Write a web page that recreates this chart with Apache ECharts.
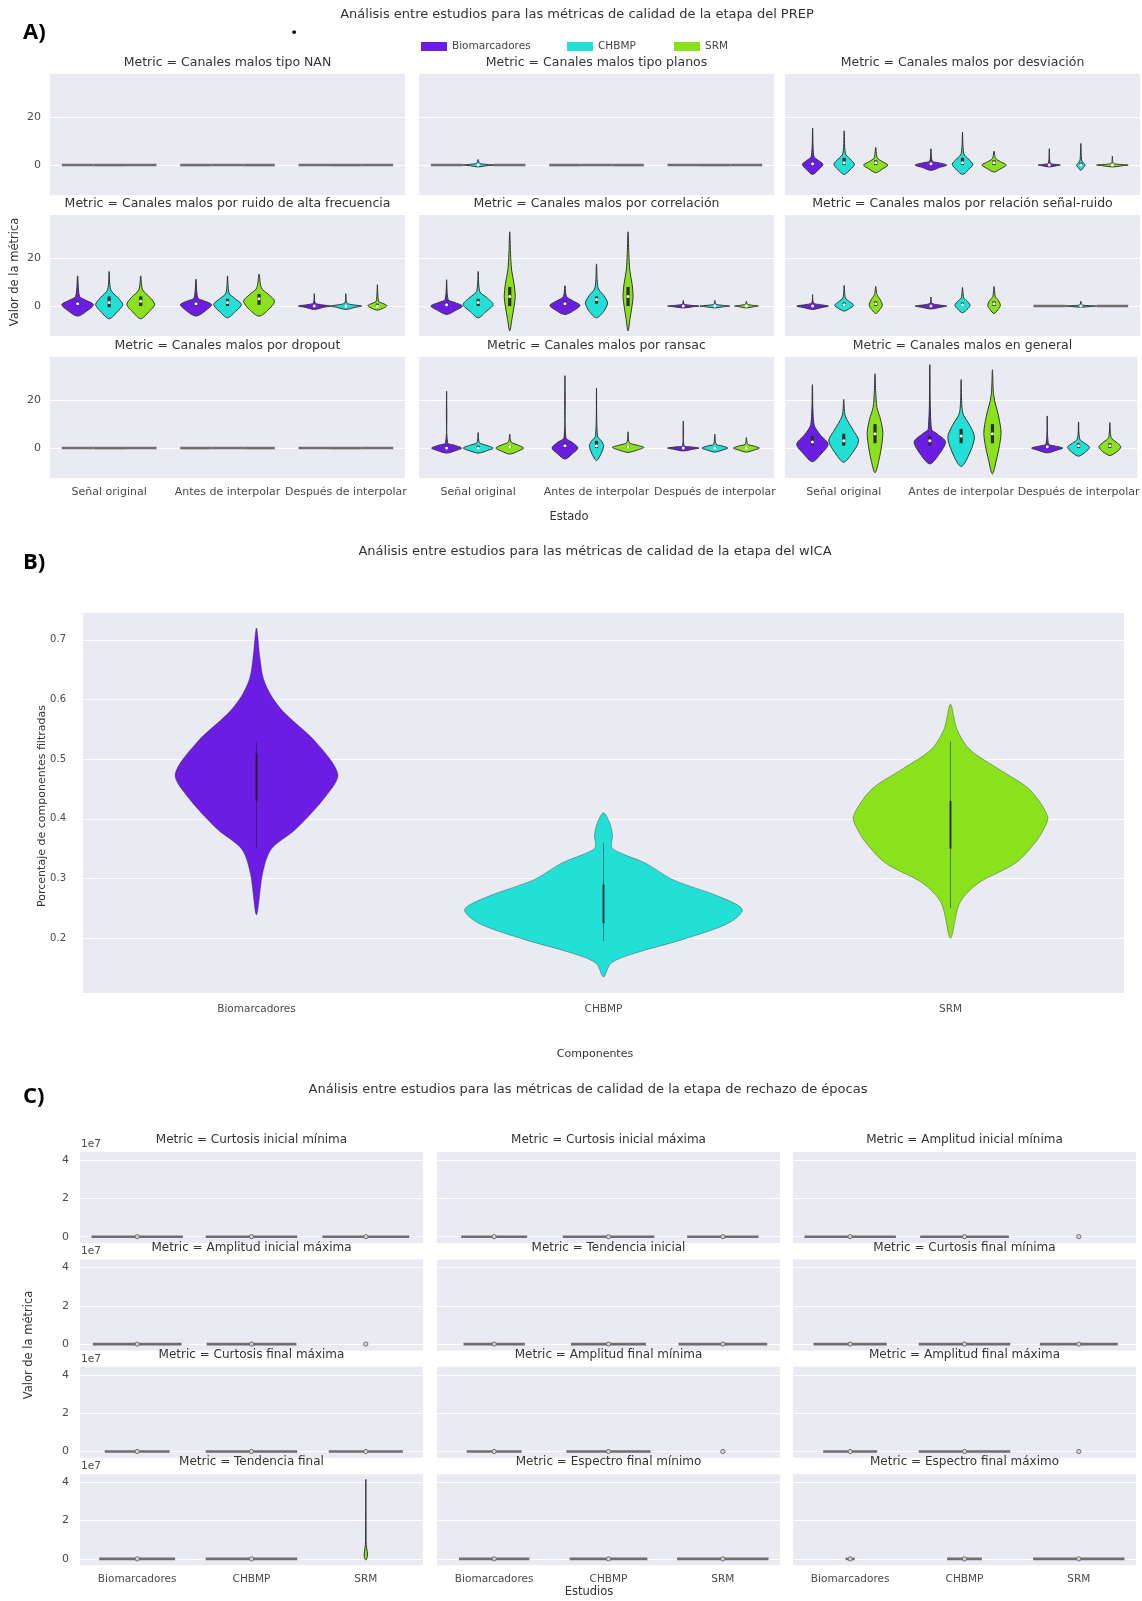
<!DOCTYPE html>
<html><head><meta charset="utf-8">
<script src="https://cdn.jsdelivr.net/npm/echarts@6/dist/echarts.min.js"></script>
<style>html,body{margin:0;padding:0;background:#fff}#c{width:1142px;height:1601px}</style>
</head><body><div id="c"></div>
<script>
// ---------------- data ----------------
const studies = ['Biomarcadores', 'CHBMP', 'SRM'];
const studyColors = ['#6b1de3', '#22e0d6', '#8ae21d'];

// A) PREP
const prepStates = ['Señal original', 'Antes de interpolar', 'Después de interpolar'];
const prepMetrics = ['Canales malos tipo NAN', 'Canales malos tipo planos', 'Canales malos por desviación',
  'Canales malos por ruido de alta frecuencia', 'Canales malos por correlación', 'Canales malos por relación señal-ruido',
  'Canales malos por dropout', 'Canales malos por ransac', 'Canales malos en general'];
const prepTicks = [0, 20];
// 9 violins per panel (state-major, study-minor). null = every value is 0.
// each: [[value, relWidth, ...] outline from bottom tip to top tip, [q1, median, q3]]
const prepNAN = [null, null, null, null, null, null, null, null, null];
const prepPlanos = [null, [[-0.8,0, -0.3,0.5, 0,1.0, 0.3,0.5, 0.8,0.08, 2.3,0], [0,0,0]], null,
  null, null, null, null, null, null];
const prepDesviacion = [
  [[-3.9,0, -1.8,0.4, 0.3,0.65, 2,0.35, 3.7,0.08, 15.4,0], [0,0.5,1.5]],
  [[-3.9,0, -1.8,0.4, 0.3,0.65, 2.5,0.38, 4.8,0.08, 14.3,0], [0,1,3]],
  [[-3.2,0, -1.5,0.45, 0,0.77, 1.5,0.4, 3,0.1, 7.4,0], [0,1,2]],
  [[-2.2,0, -1,0.55, 0,1.0, 1,0.45, 1.7,0.08, 6.8,0], [0,0.5,1]],
  [[-3.9,0, -1.8,0.4, 0.3,0.65, 2.5,0.38, 4.8,0.08, 13.7,0], [0,1,3]],
  [[-2.9,0, -1.4,0.45, 0,0.77, 1.4,0.4, 2.8,0.1, 5.8,0], [0,1,2]],
  [[-0.8,0, -0.3,0.45, 0,0.7, 0.3,0.35, 0.8,0.06, 6.8,0], [0,0,0]],
  [[-2.2,0, -1,0.17, 0,0.27, 1,0.15, 2.1,0.05, 9,0], [0,0,1]],
  [[-0.8,0, -0.3,0.6, 0,1.0, 0.3,0.45, 0.8,0.06, 3.7,0], [0,0,0]]
];
const prepRuido = [
  [[-4.2,0, -2,0.6, 0.6,1.0, 2.5,0.5, 4.1,0.12, 12.6,0], [0,1,2]],
  [[-5.3,0, -2.5,0.5, 0.6,0.86, 3.5,0.55, 6.8,0.1, 14.4,0], [-0.5,1.5,4]],
  [[-5.3,0, -2.5,0.5, 0.6,0.88, 3.5,0.6, 6.8,0.12, 12.6,0], [0,2,4]],
  [[-4.2,0, -2,0.6, 0.6,0.98, 2.2,0.5, 3.4,0.12, 11.2,0], [0,1,2]],
  [[-4.9,0, -2.3,0.5, 0.6,0.88, 3,0.5, 5.4,0.1, 12.6,0], [0,1.5,3]],
  [[-4.2,0, -1.5,0.6, 2,0.98, 4.8,0.6, 7.5,0.15, 13.3,0], [0.5,3,5]],
  [[-1.4,0, -0.5,0.6, 0,1.0, 0.6,0.4, 1.3,0.06, 5.2,0], [0,0,0]],
  [[-1.4,0, -0.5,0.6, 0,1.0, 0.6,0.4, 1.3,0.06, 5.2,0], [0,0,0.5]],
  [[-1.7,0, -0.8,0.4, 0.2,0.6, 1.1,0.35, 2,0.08, 8.9,0], [0,0,1]]
];
const prepCorrelacion = [
  [[-3.5,0, -1.7,0.6, 0,1.0, 1.5,0.5, 2.7,0.1, 11,0], [0,0.5,1.5]],
  [[-4.9,0, -2.3,0.5, 0.6,0.95, 3.5,0.55, 6.1,0.1, 14.4,0], [0,1.5,3]],
  [[-10.4,0, -5,0.15, 0,0.28, 4,0.35, 9,0.28, 15,0.12, 22,0.05, 31,0], [0,4,8]],
  [[-3.5,0, -1.7,0.6, 0.3,0.95, 2.2,0.5, 4,0.1, 8.5,0], [0,1,2]],
  [[-4.9,0, -2.3,0.45, 1.3,0.7, 4.5,0.45, 7.5,0.1, 17.6,0], [1,2.7,4]],
  [[-10.4,0, -5,0.13, 0,0.25, 4,0.32, 9,0.26, 15,0.11, 22,0.05, 31,0], [0,4,8]],
  [[-0.8,0, -0.3,0.6, 0,1.0, 0.3,0.5, 0.8,0.06, 2.3,0], [0,0,0]],
  [[-0.8,0, -0.3,0.55, 0,0.95, 0.3,0.5, 0.8,0.06, 2.3,0], [0,0,0]],
  [[-0.8,0, -0.3,0.45, 0,0.75, 0.3,0.4, 0.8,0.06, 2,0], [0,0,0]]
];
const prepRelacion = [
  [[-1.4,0, -0.6,0.6, 0,1.0, 0.6,0.45, 1.3,0.06, 4.8,0], [0,0,0]],
  [[-2.1,0, -1,0.35, 0.3,0.6, 1.8,0.35, 3.4,0.08, 8.6,0], [0,0.5,1.5]],
  [[-3.1,0, -1.5,0.25, 0.3,0.42, 2.5,0.3, 4.8,0.08, 8.2,0], [0,1,2]],
  [[-1.2,0, -0.5,0.6, 0,1.0, 0.5,0.45, 1.2,0.06, 3.8,0], [0,0,0]],
  [[-2.8,0, -1.3,0.3, 0.3,0.48, 2,0.3, 3.4,0.08, 7.8,0], [0,0.5,1.5]],
  [[-3.1,0, -1.5,0.25, 0.3,0.4, 2.3,0.28, 4,0.08, 8.2,0], [0,1,2]],
  null,
  [[-0.5,0, -0.2,0.6, 0,1.0, 0.2,0.5, 0.5,0.06, 2,0], [0,0,0]],
  null
];
const prepDropout = [null, null, null, null, null, null, null, null, null];
const prepRansac = [
  [[-2.1,0, -1,0.6, 0,0.95, 1.2,0.5, 2.3,0.06, 23.7,0], [0,0,1]],
  [[-2.1,0, -1,0.6, 0,0.95, 1.2,0.5, 2.3,0.08, 6.5,0], [0,0,1]],
  [[-2.5,0, -1.2,0.55, 0,0.88, 1.3,0.5, 2.6,0.08, 5.8,0], [0,0.5,1]],
  [[-4.6,0, -2.2,0.5, 0,0.82, 2.2,0.5, 4.4,0.06, 30.2,0], [0,1,2]],
  [[-5.2,0, -2.5,0.28, 1,0.45, 3,0.3, 5.1,0.06, 25.1,0], [0,1,3]],
  [[-1.8,0, -0.8,0.6, 0.3,1.0, 1.3,0.5, 2.3,0.08, 6.8,0], [0,0.5,1]],
  [[-1.2,0, -0.5,0.6, 0,1.0, 0.5,0.45, 1,0.05, 11.3,0], [0,0,0]],
  [[-1.7,0, -0.8,0.5, 0,0.82, 0.9,0.45, 1.6,0.08, 5.8,0], [0,0,0.5]],
  [[-1.7,0, -0.8,0.5, 0,0.82, 0.9,0.45, 1.6,0.08, 4.4,0], [0,0,0.5]]
];
const prepGeneral = [
  [[-5.7,0, -2.5,0.55, 1.6,1.0, 5.5,0.5, 9.9,0.1, 26.5,0], [1,2.5,5]],
  [[-5.9,0, -2.5,0.5, 3,0.95, 7.5,0.6, 13.4,0.1, 20.3,0], [1,3,6]],
  [[-10.3,0, -5,0.25, 1,0.42, 6.5,0.5, 12,0.35, 17,0.12, 24,0.04, 31,0], [2,6,10]],
  [[-6.6,0, -3,0.55, 2.6,1.0, 6,0.45, 7.9,0.1, 34.8,0], [1,3,5]],
  [[-7.7,0, -3.5,0.45, 4.4,0.85, 9.5,0.55, 14.8,0.1, 28.6,0], [2,5,8]],
  [[-10.8,0, -5,0.25, 1,0.45, 6.5,0.55, 13,0.4, 22,0.08, 32.7,0], [2,6,10]],
  [[-2,0, -0.9,0.6, 0,1.0, 0.9,0.45, 1.7,0.08, 13.4,0], [0,0.5,1]],
  [[-3.4,0, -1.6,0.45, 0.3,0.7, 2,0.4, 3.7,0.08, 10.9,0], [0,1,2]],
  [[-3.1,0, -1.5,0.45, 0.5,0.7, 2.5,0.4, 4.4,0.08, 10.6,0], [0,1,2]]
];
const prepPanels = [prepNAN, prepPlanos, prepDesviacion, prepRuido, prepCorrelacion, prepRelacion,
  prepDropout, prepRansac, prepGeneral];

// B) wICA
const wicaTicks = [0.2, 0.3, 0.4, 0.5, 0.6, 0.7];
// each: [[value, relWidth, ...], [whiskerLow, q1, median, q3, whiskerHigh]]
const wicaViolins = [
  [[0.239,0, 0.309,0.045, 0.349,0.106, 0.382,0.28, 0.438,0.5, 0.475,0.586, 0.528,0.43, 0.578,0.2, 0.605,0.11, 0.635,0.05, 0.67,0.025, 0.72,0],
   [0.35, 0.43, 0.47, 0.51, 0.53]],
  [[0.135,0, 0.158,0.054, 0.175,0.23, 0.197,0.56, 0.225,0.9, 0.248,1.0, 0.27,0.83, 0.298,0.5, 0.326,0.3, 0.34,0.15, 0.352,0.06, 0.372,0.065, 0.393,0.045, 0.41,0],
   [0.195, 0.225, 0.26, 0.29, 0.36]],
  [[0.2,0, 0.259,0.067, 0.292,0.2, 0.326,0.47, 0.36,0.61, 0.382,0.67, 0.404,0.70, 0.449,0.57, 0.483,0.35, 0.516,0.14, 0.55,0.047, 0.592,0],
   [0.25, 0.35, 0.39, 0.43, 0.53]]
];

// C) rechazo de épocas: one violin per study; [value, relWidth] = values all ~equal (flat)
const rechazoMetrics = ['Curtosis inicial mínima', 'Curtosis inicial máxima', 'Amplitud inicial mínima',
  'Amplitud inicial máxima', 'Tendencia inicial', 'Curtosis final mínima',
  'Curtosis final máxima', 'Amplitud final mínima', 'Amplitud final máxima',
  'Tendencia final', 'Espectro final mínimo', 'Espectro final máximo'];
const rechazoTicks = [0, 2e7, 4e7];
const rzCurtIniMin = [[[0, 1.0]], [[0, 1.0]], [[0, 0.95]]];
const rzCurtIniMax = [[[0, 0.72]], [[0, 1.0]], [[0, 0.78]]];
const rzAmpIniMin = [[[0, 1.0]], [[0, 0.97]], [[0, 0.03]]];
const rzAmpIniMax = [[[0, 0.97]], [[0, 0.98]], [[0, 0.03]]];
const rzTendIni = [[[0, 0.67]], [[0, 0.82]], [[0, 0.97]]];
const rzCurtFinMin = [[[0, 0.8]], [[0, 1.0]], [[0, 0.85]]];
const rzCurtFinMax = [[[0, 0.71]], [[0, 1.0]], [[0, 0.81]]];
const rzAmpFinMin = [[[0, 0.6]], [[0, 0.92]], [[0, 0.03]]];
const rzAmpFinMax = [[[0, 0.59]], [[0, 1.0]], [[0, 0.03]]];
const rzTendFin = [[[0, 0.83]], [[0, 1.0]],
  [[-0.06e7,0, 0.12e7,0.035, 0.4e7,0.03, 0.75e7,0.008, 4.15e7,0], null]];
const rzEspFinMin = [[[0, 0.77]], [[0, 0.85]], [[0, 1.0]]];
const rzEspFinMax = [[[0, 0.1]], [[0, 0.38]], [[0, 1.0]]];
const rechazoPanels = [rzCurtIniMin, rzCurtIniMax, rzAmpIniMin, rzAmpIniMax, rzTendIni, rzCurtFinMin,
  rzCurtFinMax, rzAmpFinMin, rzAmpFinMax, rzTendFin, rzEspFinMin, rzEspFinMax];

// ---------------- chart ----------------
const FONT = 'DejaVu Sans';
const PANEL_BG = '#eaeaf2';
const TXT = '#333';
const TICK = '#4a4a4a';
const grid = [], xAxis = [], yAxis = [], series = [], graphic = [];

function violinSeries(ax, entries, nHue, kind) {
  return {
    type: 'custom', xAxisIndex: ax, yAxisIndex: ax, silent: true, animation: false,
    data: entries.map((e, i) => [nHue === 3 ? Math.floor(i / 3) : i, 0, i]),
    encode: { x: 0, y: 1 },
    renderItem: function (params, api) {
      const i = api.value(2);
      const cat = api.value(0);
      const e = entries[i];
      const hue = nHue === 3 ? i % 3 : cat;
      const band = api.size([1, 0], [cat, 0])[0];
      const slot = band * 0.8 / nHue;
      const half = slot / 2;
      const cx = api.coord([cat, 0])[0] + (nHue === 3 ? (hue - 1) * slot : 0);
      const yOf = v => api.coord([cat, v])[1];
      const children = [];
      if (!e || e[0].length === 2) {
        const v = e ? e[0][0] : 0, w = e ? e[0][1] : 1;
        const y = yOf(v);
        children.push({ type: 'line', shape: { x1: cx - w * half, y1: y, x2: cx + w * half, y2: y },
          style: { stroke: '#6e6e6e', lineWidth: 2.6 } });
        if (e) children.push({ type: 'circle', shape: { cx: cx, cy: y, r: 2.1 },
          style: { fill: '#d8d8d8', stroke: '#6e6e6e', lineWidth: 1 } });
        return { type: 'group', children: children };
      }
      const k = e[0];
      const right = [], left = [];
      for (let j = 0; j < k.length; j += 2) {
        const y = yOf(k[j]);
        const w = k[j + 1] * half;
        right.push([cx + w, y]);
        if (w > 0) left.push([cx - w, y]);
      }
      const pts = right.concat(left.reverse());
      children.push({ type: 'polygon', shape: { points: pts, smooth: kind === 'B' ? 0.3 : 0.3 },
        style: { fill: studyColors[hue], stroke: kind === 'B' ? 'rgba(40,40,40,0.45)' : '#363636',
          lineWidth: kind === 'B' ? 0.8 : 1 } });
      const b = e[1];
      if (b && b.length === 3) {
        const y1 = yOf(b[0]), ym = yOf(b[1]), y3 = yOf(b[2]);
        if (y1 - y3 > 0.5) children.push({ type: 'rect', shape: { x: cx - 1.6, y: y3, width: 3.2, height: y1 - y3 },
          style: { fill: '#2e2e2e' } });
        children.push({ type: 'circle', shape: { cx: cx, cy: ym, r: 1.5 }, style: { fill: '#fff' } });
      } else if (b && b.length === 5) {
        children.push({ type: 'line', shape: { x1: cx, y1: yOf(b[0]), x2: cx, y2: yOf(b[4]) },
          style: { stroke: 'rgba(30,30,30,0.5)', lineWidth: 1 } });
        children.push({ type: 'line', shape: { x1: cx, y1: yOf(b[1]), x2: cx, y2: yOf(b[3]) },
          style: { stroke: 'rgba(30,30,30,0.8)', lineWidth: 2 } });
      }
      return { type: 'group', children: children };
    }
  };
}

function text(x, y, t, size, opts) {
  return Object.assign({ type: 'text', x: x, y: y, silent: true,
    style: { text: t, fontFamily: FONT, fontSize: size, fill: TXT, align: 'center', verticalAlign: 'middle' } }, opts || {});
}

function baseY(idx, min, max, ticks, showLabel, margin, size, fmt) {
  return { type: 'value', gridIndex: idx, min: min, max: max,
    axisLine: { show: false }, axisTick: { show: false, customValues: ticks },
    axisLabel: { show: showLabel, customValues: ticks, margin: margin, fontFamily: FONT, fontSize: size, color: TICK,
      formatter: fmt },
    splitLine: { show: true, lineStyle: { color: '#ffffff', width: 1.2 } } };
}
function baseX(idx, cats, showLabel, margin, size) {
  return { type: 'category', gridIndex: idx, data: cats,
    axisLine: { show: false }, axisTick: { show: false }, splitLine: { show: false },
    axisLabel: { show: showLabel, interval: 0, margin: margin, fontFamily: FONT, fontSize: size, color: TICK } };
}

// ---- A ----
const aLeft = [50, 419, 785], aTop = [74, 215, 357], aW = 355, aH = 121;
prepPanels.forEach((panel, p) => {
  const r = Math.floor(p / 3), c = p % 3, idx = grid.length;
  grid.push({ left: aLeft[c], top: aTop[r], width: aW, height: aH, show: true, backgroundColor: PANEL_BG, borderWidth: 0 });
  xAxis.push(baseX(idx, prepStates, r === 2, 9, 11));
  yAxis.push(baseY(idx, -12.5, 38, prepTicks, c === 0, 9, 11, v => String(v)));
  series.push(violinSeries(idx, panel, 3, 'A'));
  graphic.push(text(aLeft[c] + aW / 2, aTop[r] - 11, 'Metric = ' + prepMetrics[p], 12.5));
});
studies.forEach((s, i) => series.push({ type: 'custom', name: s, xAxisIndex: 0, yAxisIndex: 0, data: [],
  itemStyle: { color: studyColors[i] }, renderItem: () => null }));

// ---- B ----
{
  const idx = grid.length;
  grid.push({ left: 83, top: 613, width: 1041, height: 380, show: true, backgroundColor: PANEL_BG, borderWidth: 0 });
  xAxis.push(baseX(idx, studies, true, 11, 10.5));
  yAxis.push(baseY(idx, 0.108, 0.745, wicaTicks, true, 17, 10, v => v.toFixed(1)));
  series.push(violinSeries(idx, wicaViolins, 1, 'B'));
}

// ---- C ----
const cLeft = [80, 437, 793], cTop = [1152, 1259.4, 1366.8, 1474.2], cW = 343, cH = 91;
rechazoPanels.forEach((panel, p) => {
  const r = Math.floor(p / 3), c = p % 3, idx = grid.length;
  grid.push({ left: cLeft[c], top: cTop[r], width: cW, height: cH, show: true, backgroundColor: PANEL_BG, borderWidth: 0 });
  xAxis.push(baseX(idx, studies, r === 3, 9, 10.5));
  yAxis.push(baseY(idx, -0.33e7, 4.42e7, rechazoTicks, c === 0, 11, 11, v => String(Math.round(v / 1e7))));
  series.push(violinSeries(idx, panel, 1, 'C'));
  graphic.push(text(cLeft[c] + cW / 2, cTop[r] - 12, 'Metric = ' + rechazoMetrics[p], 12));
  if (c === 0) graphic.push(text(81, cTop[r] - 8, '1e7', 10.5, { style: { text: '1e7', fontFamily: FONT, fontSize: 10.5, fill: TICK, align: 'left', verticalAlign: 'middle' } }));
});

// ---- texts ----
const bold = (x, y, t) => ({ type: 'text', x: x, y: y, silent: true,
  style: { text: t, fontFamily: 'Open Sans', fontWeight: 'bold', fontSize: 22, fill: '#000', align: 'left', verticalAlign: 'middle' } });
graphic.push(bold(23, 33, 'A)'), bold(291, 28, '.'), bold(23, 563, 'B)'), bold(23, 1097, 'C)'));
graphic.push(text(577, 15, 'Análisis entre estudios para las métricas de calidad de la etapa del PREP', 13));
graphic.push(text(595, 552, 'Análisis entre estudios para las métricas de calidad de la etapa del wICA', 13));
graphic.push(text(588, 1090, 'Análisis entre estudios para las métricas de calidad de la etapa de rechazo de épocas', 13));
graphic.push(text(15, 272, 'Valor de la métrica', 11.5, { rotation: Math.PI / 2 }));
graphic.push(text(569, 517, 'Estado', 11.5));
graphic.push(text(42, 806, 'Porcentaje de componentes filtradas', 11, { rotation: Math.PI / 2 }));
graphic.push(text(595, 1054, 'Componentes', 11));
graphic.push(text(29, 1345, 'Valor de la métrica', 11.5, { rotation: Math.PI / 2 }));
graphic.push(text(589, 1592, 'Estudios', 11.5));

const legend = studies.map((s, i) => ({
  data: [{ name: s, icon: 'rect', itemStyle: { color: studyColors[i] } }],
  left: [416, 562, 669][i], top: 36, itemWidth: 26, itemHeight: 9, selectedMode: false,
  textStyle: { fontFamily: FONT, fontSize: 10.5, color: '#444' }
}));

const chart = echarts.init(document.getElementById('c'), null, { renderer: 'canvas', width: 1142, height: 1601 });
chart.setOption({
  backgroundColor: '#ffffff', animation: false,
  grid: grid, xAxis: xAxis, yAxis: yAxis, series: series, legend: legend, graphic: graphic
});
</script></body></html>
